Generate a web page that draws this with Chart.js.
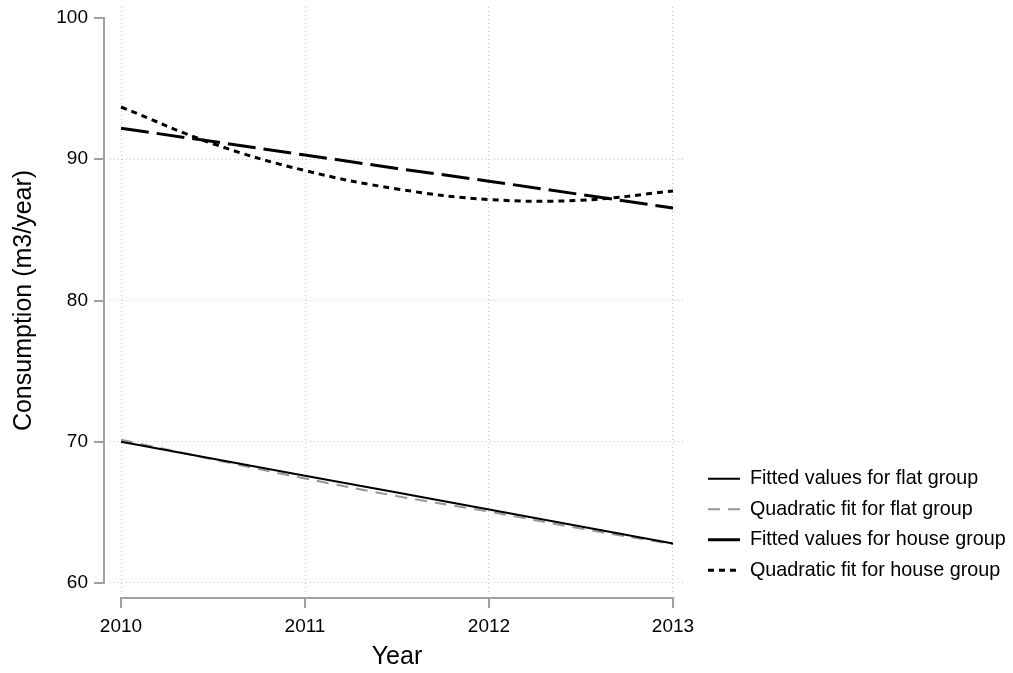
<!DOCTYPE html>
<html>
<head>
<meta charset="utf-8">
<script src="https://cdn.jsdelivr.net/npm/chart.js@4/dist/chart.umd.min.js"></script>
<style>
  html, body { margin: 0; padding: 0; background: #ffffff; }
  canvas { display: block; }
</style>
</head>
<body>
<canvas id="c" width="1013" height="673"></canvas>
<script>
// ---- data ----
const years = [2010, 2010.5, 2011, 2011.5, 2012, 2012.5, 2013];
const flatFitted     = [70.0, 68.8, 67.6, 66.4, 65.2, 64.0, 62.8];
const flatQuadratic  = [70.15, 68.75, 67.4, 66.15, 65.05, 63.85, 62.75];
const houseFitted    = [92.2, 91.25, 90.3, 89.35, 88.45, 87.5, 86.55];
const houseQuadratic = [93.7, 91.1, 89.2, 87.9, 87.15, 87.1, 87.75];
const xTicks = [2010, 2011, 2012, 2013];
const yTicks = [60, 70, 80, 90, 100];
const seriesLabels = [
  'Fitted values for flat group',
  'Quadratic fit for flat group',
  'Fitted values for house group',
  'Quadratic fit for house group'
];
const xTitle = 'Year';
const yTitle = 'Consumption (m3/year)';

// ---- styling ----
const FONT = "'Liberation Sans', Arial, sans-serif";
Chart.defaults.font.family = FONT;
Chart.defaults.color = '#000000';

const legendDash = [[], [12, 8], [], [6, 5]];

function pts(vals) { return years.map((x, i) => ({ x: x, y: vals[i] })); }

const axesPlugin = {
  id: 'stataAxes',
  afterLayout(chart) {
    const lg = chart.legend;
    if (!lg) return;
    lg.left = 697.25;
    lg.top = 458;
    lg.right = lg.left + lg.width;
    lg.bottom = lg.top + lg.height;
  },
  afterDraw(chart) {
    const { ctx, scales: { x, y } } = chart;
    const x0 = x.getPixelForValue(xTicks[0]);
    const x1 = x.getPixelForValue(xTicks[xTicks.length - 1]);
    const y0 = y.getPixelForValue(yTicks[0]);
    const y1 = y.getPixelForValue(yTicks[yTicks.length - 1]);
    const axX = Math.round(x0 - 17);
    const axY = Math.round(y0 + 15);
    ctx.save();
    ctx.strokeStyle = '#a0a0a0';
    ctx.lineWidth = 2;
    ctx.lineCap = 'butt';
    ctx.beginPath();
    ctx.moveTo(axX, y1 - 1); ctx.lineTo(axX, y0 + 1);
    yTicks.forEach(v => {
      const py = Math.round(y.getPixelForValue(v));
      ctx.moveTo(axX - 10, py); ctx.lineTo(axX + 1, py);
    });
    ctx.moveTo(x0 - 1, axY); ctx.lineTo(x1 + 1, axY);
    xTicks.forEach(v => {
      const px = Math.round(x.getPixelForValue(v));
      ctx.moveTo(px, axY - 1); ctx.lineTo(px, axY + 10);
    });
    ctx.stroke();
    ctx.restore();
  }
};

new Chart(document.getElementById('c'), {
  type: 'line',
  data: {
    datasets: [
      { label: seriesLabels[0], data: pts(flatFitted), borderColor: '#000000', borderWidth: 2, borderDash: [], tension: 0 },
      { label: seriesLabels[1], data: pts(flatQuadratic), borderColor: '#969696', borderWidth: 2, borderDash: [12, 8], tension: 0.4 },
      { label: seriesLabels[2], data: pts(houseFitted), borderColor: '#000000', borderWidth: 3, borderDash: [28, 8], tension: 0 },
      { label: seriesLabels[3], data: pts(houseQuadratic), borderColor: '#000000', borderWidth: 3, borderDash: [6, 5], tension: 0.4 }
    ]
  },
  options: {
    responsive: false,
    animation: false,
    devicePixelRatio: 1,
    layout: { padding: { top: 7, right: 329, bottom: 0, left: 0 } },
    elements: { point: { radius: 0, hoverRadius: 0 }, line: { fill: false, borderCapStyle: 'butt' } },
    scales: {
      x: {
        type: 'linear',
        min: 2009.9402,
        max: 2013.0598,
        afterBuildTicks: s => { s.ticks = xTicks.map(v => ({ value: v })); },
        afterFit: s => { s.height = 79; s.paddingLeft = 0; s.paddingRight = 0; },
        ticks: { autoSkip: false, maxRotation: 0, padding: 21.5, color: '#000', font: { size: 19 }, callback: v => String(v) },
        grid: { drawTicks: false, color: '#c4c4c4', lineWidth: 1 },
        border: { display: false, dash: [1, 3] },
        title: { display: true, text: xTitle, color: '#000', font: { size: 25 }, padding: { top: 0, bottom: 1 } }
      },
      y: {
        type: 'linear',
        min: 59.2212,
        max: 100.7788,
        afterBuildTicks: s => { s.ticks = yTicks.map(v => ({ value: v })); },
        afterFit: s => { s.width = 110; s.paddingTop = 0; s.paddingBottom = 0; },
        ticks: { padding: 22, color: '#000', font: { size: 19 }, callback: v => String(v) },
        grid: { drawTicks: false, color: ctx => (ctx.tick && ctx.tick.value === 100) ? 'rgba(0,0,0,0)' : '#c4c4c4', lineWidth: 1 },
        border: { display: false, dash: [1, 3] },
        title: { display: true, text: yTitle, color: '#000', font: { size: 25 }, padding: { top: 9, bottom: 0 } }
      }
    },
    plugins: {
      tooltip: { enabled: false },
      legend: {
        display: true,
        position: 'chartArea',
        align: 'start',
        labels: {
          color: '#000',
          font: { size: 19.75 },
          padding: 10.75,
          usePointStyle: true,
          pointStyle: 'line',
          pointStyleWidth: 32,
          generateLabels(chart) {
            const items = Chart.defaults.plugins.legend.labels.generateLabels(chart);
            items.forEach((it, i) => { it.lineDash = legendDash[i]; it.pointStyle = 'line'; it.fontColor = '#000'; });
            return items;
          }
        }
      }
    }
  },
  plugins: [axesPlugin]
});
</script>
</body>
</html>
